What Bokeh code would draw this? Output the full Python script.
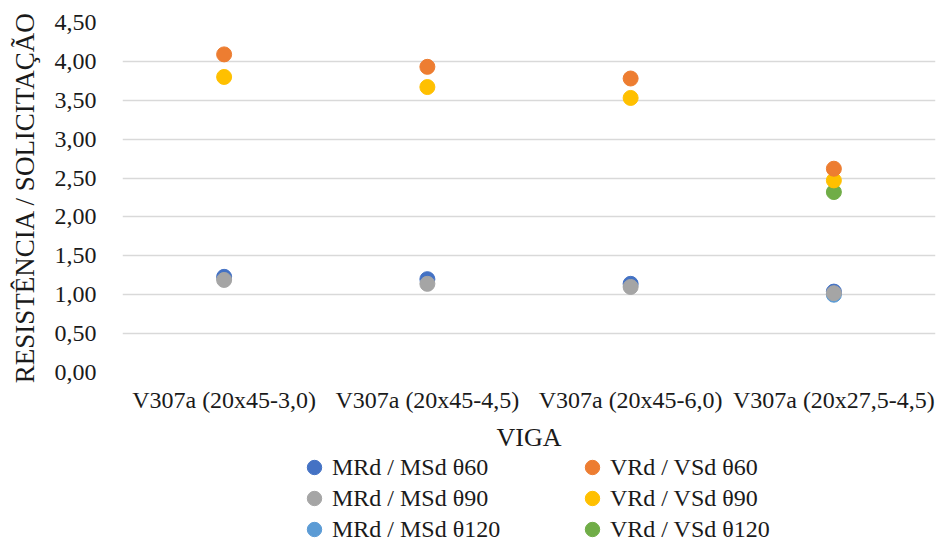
from bokeh.plotting import figure
from bokeh.layouts import column
from bokeh.models import (FactorRange, Range1d, FixedTicker, CustomJSTickFormatter,
                          Legend, LegendItem)
from bokeh.embed import file_html
from bokeh.resources import INLINE
import math

# Beams (categories)
vigas = ["V307a (20x45-3,0)", "V307a (20x45-4,5)", "V307a (20x45-6,0)", "V307a (20x27,5-4,5)"]

# Resistance / demand ratios per series (NaN = not evaluated)
mrd_60 = [1.23, 1.20, 1.14, 1.04]
mrd_90 = [1.19, 1.14, 1.10, 1.02]
mrd_120 = [math.nan, math.nan, math.nan, 1.00]
vrd_60 = [4.09, 3.93, 3.78, 2.62]
vrd_90 = [3.80, 3.67, 3.53, 2.47]
vrd_120 = [math.nan, math.nan, math.nan, 2.32]

y_ticks = [0, 0.5, 1.0, 1.5, 2.0, 2.5, 3.0, 3.5, 4.0, 4.5]

FONT = "'Liberation Serif', 'Times New Roman', serif"
TEXT = "#1a1a1a"
FS = "24px"

# drawing order: later series sit on top
series = [
    ("MRd / MSd θ120", mrd_120, "#5B9BD5"),
    ("MRd / MSd θ60", mrd_60, "#4472C4"),
    ("MRd / MSd θ90", mrd_90, "#A5A5A5"),
    ("VRd / VSd θ120", vrd_120, "#70AD47"),
    ("VRd / VSd θ90", vrd_90, "#FFC000"),
    ("VRd / VSd θ60", vrd_60, "#ED7D31"),
]

# legend arrangement: two columns, three rows
legend_grid = [
    ["MRd / MSd θ60", "MRd / MSd θ90", "MRd / MSd θ120"],
    ["VRd / VSd θ60", "VRd / VSd θ90", "VRd / VSd θ120"],
]

p = figure(width=936, height=454, x_range=FactorRange(*vigas, range_padding=0),
           y_range=Range1d(0, 4.5), output_backend="svg", toolbar_location=None,
           min_border_left=122, min_border_right=1, min_border_top=22,
           min_border_bottom=82)
p.outline_line_color = None

p.xgrid.grid_line_color = None
p.ygrid.grid_line_color = "#d9d9d9"
p.ygrid.grid_line_width = 1.5

p.yaxis.ticker = FixedTicker(ticks=y_ticks)
p.yaxis.formatter = CustomJSTickFormatter(code="return tick.toFixed(2).replace('.', ',');")
for ax in (p.xaxis[0], p.yaxis[0]):
    ax.axis_line_color = None
    ax.major_tick_line_color = None
    ax.minor_tick_line_color = None
    ax.major_label_text_font = FONT
    ax.major_label_text_font_size = FS
    ax.major_label_text_color = TEXT
    ax.axis_label_text_font = FONT
    ax.axis_label_text_font_size = "27px"
    ax.axis_label_text_font_style = "normal"
    ax.axis_label_text_color = TEXT

p.yaxis.axis_label = "RESISTÊNCIA / SOLICITAÇÃO"
p.yaxis.major_label_standoff = 20
p.yaxis.axis_label_standoff = 12
p.xaxis.axis_label = "VIGA"
p.xaxis.axis_label_text_font_size = "26px"
p.xaxis.major_label_standoff = 8
p.xaxis.axis_label_standoff = 7

for name, vals, color in series:
    p.scatter(vigas, vals, size=15, color=color)

# Legend strip below the chart.
# Swatches carry the same data but their y-range keeps them out of view.
LF_H = 86
lf = figure(width=936, height=LF_H, x_range=FactorRange(*vigas), y_range=Range1d(10, 11),
            x_axis_type=None, y_axis_type=None, output_backend="svg",
            toolbar_location=None, min_border=0, min_border_left=122, min_border_right=1)
lf.outline_line_color = None
lf.grid.visible = False
swatch = {name: lf.scatter(vigas, vals, size=15, color=color) for name, vals, color in series}

GLYPH = 36          # legend markers are drawn at 0.4 of this box
COL_X = [174, 452]  # left edge of each legend column within the frame
ROW_Y0, ROW_STEP = 13, 31  # centre of first row, row pitch (from top)

for ci, names in enumerate(legend_grid):
    for ri, n in enumerate(names):
        centre = ROW_Y0 + ri * ROW_STEP
        bottom = centre + GLYPH / 2
        lf.add_layout(Legend(
            items=[LegendItem(label=n, renderers=[swatch[n]])],
            location=(COL_X[ci], int(LF_H - bottom)), orientation="vertical",
            background_fill_alpha=0, border_line_color=None,
            label_text_font=FONT, label_text_font_size=FS,
            label_text_color=TEXT, glyph_width=GLYPH, glyph_height=GLYPH,
            label_standoff=0, spacing=0, padding=0, margin=0, label_height=20),
            "center")

layout = column(p, lf, spacing=0)
open("out.html", "w").write(file_html(layout, INLINE))
